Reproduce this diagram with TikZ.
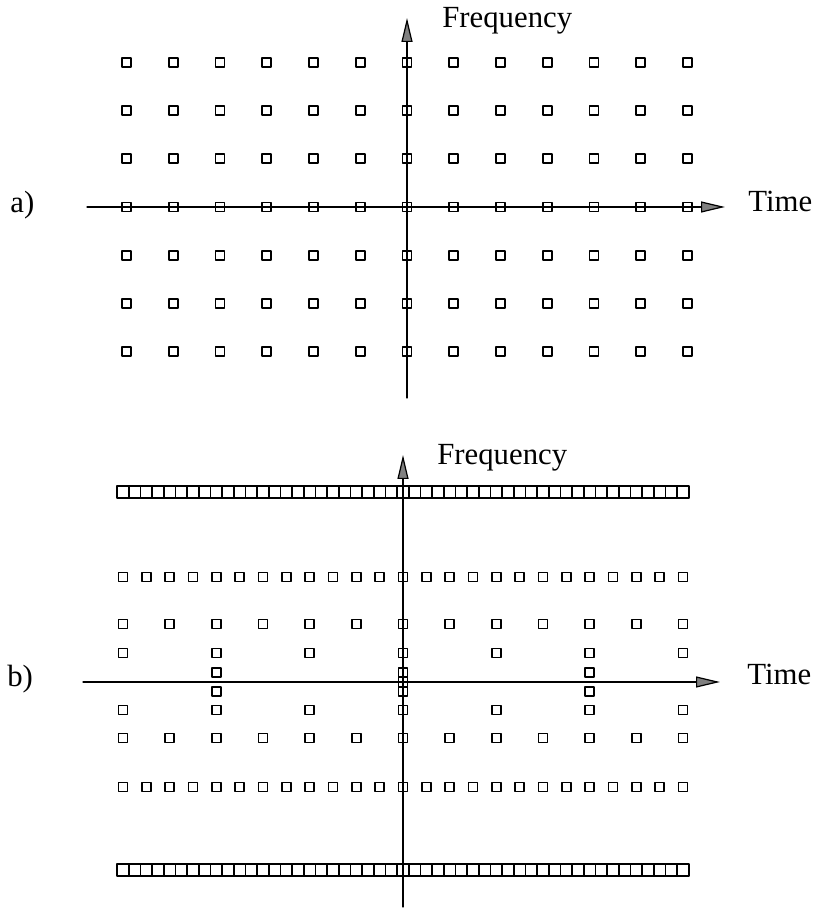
\documentclass[tikz,border=0pt]{standalone}
\usepackage{fontspec}
\setmainfont{Liberation Serif}
\usetikzlibrary{
	arrows.meta,
	calc
}
\colorlet{AGray}{black!50}
\newcommand{\tfbox}[3]{%
	\draw[line width=1.1pt] ({#1-#3/2},{#2-#3/2}) rectangle ({#1+#3/2},{#2+#3/2});
}
\newcommand{\tfrow}[5]{%
	\foreach \kk in {-#4,...,#4}{%
		\tfbox{#1+\kk*#3}{#2}{#5}
	}
}

\begin{document}
\begin{tikzpicture}[font=\fontsize{17.5}{20}\selectfont, line cap=round, line join=round,
	axis/.style={line width=0.7pt, -{Triangle[length=0.48cm,width=0.22cm,fill=AGray]}}]
		
		\useasboundingbox (0,0) rectangle (16.36,18.18);
		
		% -- a) regular grid ------------------------------------------
		\def\Aox{8.14}
		\def\Aoy{14.04}
		
		\coordinate (aW) at (\Aox-6.4,\Aoy);
		\coordinate (aE) at (\Aox+6.36,\Aoy);
		\coordinate (aS) at (\Aox,\Aoy-3.82);
		\coordinate (aN) at (\Aox,\Aoy+3.78);
		\draw[axis] (aW) -- (aE);
		\draw[axis] (aS) -- (aN);
		
		\foreach \jj in {-3,...,3}{%
			\tfrow{\Aox}{\Aoy+\jj*0.965}{0.935}{6}{0.18}
		}
		
		\node[anchor=base west, inner sep=0] (labA) at (0.2,13.92) {a)};
		\node[anchor=base west, inner sep=0] (freqA) at (8.84,17.62) {Frequency};
		\node[anchor=base west, inner sep=0] (timeA) at (14.96,13.94) {Time};
		
		% -- b) constant-Q grid ---------------------------------------
		\def\Bpx{8.06}
		\def\Bpy{4.54}
		
		\coordinate (bW) at (\Bpx-6.4,\Bpy);
		\coordinate (bE) at (\Bpx+6.34,\Bpy);
		\coordinate (bS) at (\Bpx,\Bpy-4.5);
		\coordinate (bN) at (\Bpx,\Bpy+4.54);
		\draw[axis] (bW) -- (bE);
		\draw[axis] (bS) -- (bN);
		
		% dense rows far from the axis
		\tfrow{\Bpx}{\Bpy+3.8}{0.2333}{24}{0.2333}
		\tfrow{\Bpx}{\Bpy-3.76}{0.2333}{24}{0.2333}
		% half step rows
		\tfrow{\Bpx}{\Bpy+2.1}{0.4667}{12}{0.18}
		\tfrow{\Bpx}{\Bpy-2.1}{0.4667}{12}{0.18}
		% full step rows
		\tfrow{\Bpx}{\Bpy+1.16}{0.9333}{6}{0.18}
		\tfrow{\Bpx}{\Bpy-1.12}{0.9333}{6}{0.18}
		% double step rows
		\tfrow{\Bpx}{\Bpy+0.58}{1.8667}{3}{0.18}
		\tfrow{\Bpx}{\Bpy-0.56}{1.8667}{3}{0.18}
		% four step rows, next to the axis
		\tfrow{\Bpx}{\Bpy+0.19}{3.7333}{1}{0.18}
		\tfrow{\Bpx}{\Bpy-0.19}{3.7333}{1}{0.18}
		\tfbox{\Bpx}{\Bpy}{0.18}
		
		\node[anchor=base west, inner sep=0] (labB) at (0.14,4.44) {b)};
		\node[anchor=base west, inner sep=0] (freqB) at (8.74,8.88) {Frequency};
		\node[anchor=base west, inner sep=0] (timeB) at (14.94,4.48) {Time};
		
	\end{tikzpicture}
\end{document}
